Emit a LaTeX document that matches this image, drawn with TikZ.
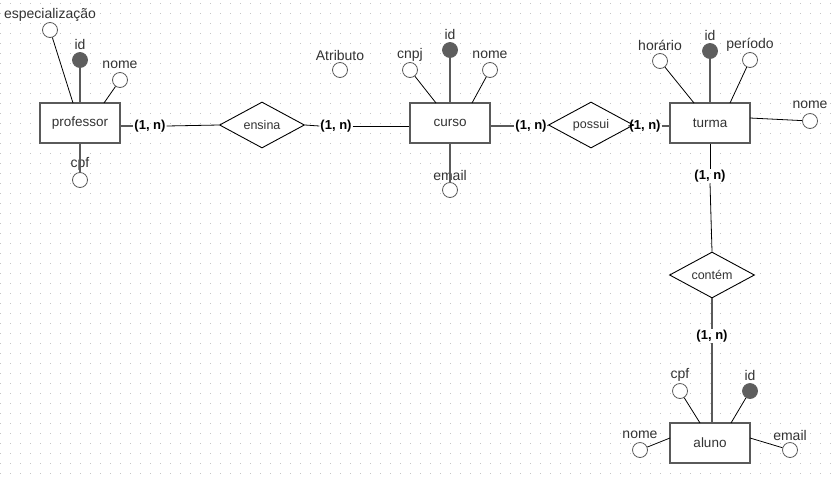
\documentclass[tikz,border=0pt]{standalone}
\usepackage{fontspec}
\setmainfont{Liberation Sans}
\usetikzlibrary{shapes.geometric}
\definecolor{ink}{HTML}{333333}
\definecolor{edge}{HTML}{5A5A5A}
\definecolor{keyfill}{HTML}{5E5E5E}
\definecolor{dotc}{HTML}{C4C4C4}
\tikzset{
  entity/.style={draw=edge, line width=1.5pt, fill=white, minimum width=80pt, minimum height=40pt,
    inner sep=0pt, text=ink, font=\fontsize{13.5}{14}\selectfont},
  relation/.style={draw=black, line width=0.9pt, fill=white, diamond, aspect=1.85,
    minimum width=85pt, minimum height=46pt, inner sep=0pt, text=ink, font=\fontsize{12.5}{13}\selectfont},
  attr/.style={circle, draw=edge, line width=0.8pt, fill=white, minimum size=15pt, inner sep=0pt},
  keyattr/.style={circle, draw=keyfill, line width=0.8pt, fill=keyfill, minimum size=15pt, inner sep=0pt},
  lbl/.style={text=ink, font=\fontsize{14}{15}\selectfont, inner sep=0pt},
  card/.style={font=\bfseries\fontsize{13}{14}\selectfont, text=black, inner sep=1pt},
  thin/.style={draw=black, line width=0.8pt},
  heavy/.style={draw=edge, line width=1.5pt},
}
\begin{document}
\begin{tikzpicture}[x=1pt, y=-1pt]
\useasboundingbox (0,0) rectangle (837,480);
\fill[white] (0,0) rectangle (837,480);
% dotted background grid
\foreach \gx in {0,10,...,830}{
  \foreach \gy in {3,13,...,473}{
    \fill[dotc] (\gx,\gy) rectangle ++(1.1,1.1);
  }
}

% entities and relationships
\node[entity] (prof) at (80,123) {professor};
\node[entity] (curso) at (450,123) {curso};
\node[entity] (turma) at (710,123) {turma};
\node[entity] (aluno) at (710,443) {aluno};
\node[relation] (ensina) at (262,125) {ensina};
\node[relation] (possui) at (591,125) {possui};
\node[relation] (contem) at (712,275) {contém};

% cardinalities
\node[card] (c1) at (150,126) {(1, n)};
\node[card] (c2) at (336,126) {(1, n)};
\node[card] (c3) at (531,126) {(1, n)};
\node[card] (c4) at (645,126) {(1, n)};
\node[card] (c5) at (710,176) {(1, n)};
\node[card] (c6) at (712,336) {(1, n)};

% relationship lines
\draw[heavy] (prof.east |- c1) -- (c1.west);
\draw[thin] (c1.east) -- (ensina.west);
\draw[thin] (ensina.east) -- (c2.west);
\draw[thin] (c2.east) -- (curso.west |- c2);
\draw[heavy] (curso.east |- c3) -- (c3.west);
\draw[thin] (c3.east) -- (possui.west);
\draw[thin] (possui.east) -- (c4.west);
\draw[heavy] (c4.east) -- (turma.west |- c4);
\draw[thin] (turma.south) -- (c5.north);
\draw[thin] (c5.south) -- (contem.north);
\draw[heavy] (contem.south) -- (c6.north);
\draw[heavy] (c6.south) -- (aluno.north -| c6);

% professor attributes
\node[attr] (pEsp) at (50,30) {};
\node[lbl] (pEspL) at (50,15) {especialização};
\node[keyattr] (pId) at (80,60) {};
\node[lbl] (pIdL) at (80,44) {id};
\node[attr] (pNome) at (120,80) {};
\node[lbl] (pNomeL) at (120,65) {nome};
\node[attr] (pCpf) at (80,180) {};
\node[lbl] (pCpfL) at (80,164) {cpf};
\coordinate (pEspA) at (73,103);
\coordinate (pNomeA) at (104,103);
\draw[thin] (pEsp) -- (pEspA);
\draw[heavy] (pId) -- (prof.north);
\draw[thin] (pNome) -- (pNomeA);
\draw[heavy] (prof.south) -- (pCpf);

% curso attributes
\node[attr] (atr) at (340,70) {};
\node[lbl] (atrL) at (340,55) {Atributo};
\node[attr] (cCnpj) at (410,70) {};
\node[lbl] (cCnpjL) at (410,55) {cnpj};
\node[keyattr] (cId) at (450,50) {};
\node[lbl] (cIdL) at (450,34) {id};
\node[attr] (cNome) at (490,70) {};
\node[lbl] (cNomeL) at (490,55) {nome};
\node[attr] (cEmail) at (450,190) {};
\node[lbl] (cEmailL) at (450,175) {email};
\coordinate (cCnpjA) at (436,103);
\coordinate (cNomeA) at (472,103);
\draw[thin] (cCnpj) -- (cCnpjA);
\draw[heavy] (cId) -- (curso.north);
\draw[thin] (cNome) -- (cNomeA);
\draw[heavy] (curso.south) -- (cEmail);

% turma attributes
\node[attr] (tHor) at (660,61) {};
\node[lbl] (tHorL) at (660,45) {horário};
\node[keyattr] (tId) at (710,51) {};
\node[lbl] (tIdL) at (710,35) {id};
\node[attr] (tPer) at (750,60) {};
\node[lbl] (tPerL) at (750,45) {período};
\node[attr] (tNome) at (810,121) {};
\node[lbl] (tNomeL) at (810,105) {nome};
\coordinate (tHorA) at (694,103);
\coordinate (tPerA) at (730,103);
\coordinate (tNomeA) at (750,118);
\draw[thin] (tHor) -- (tHorA);
\draw[heavy] (tId) -- (turma.north);
\draw[thin] (tPer) -- (tPerA);
\draw[thin] (tNomeA) -- (tNome);

% aluno attributes
\node[attr] (aCpf) at (680,391) {};
\node[lbl] (aCpfL) at (680,375) {cpf};
\node[keyattr] (aId) at (750,391) {};
\node[lbl] (aIdL) at (750,375) {id};
\node[attr] (aNome) at (640,450) {};
\node[lbl] (aNomeL) at (640,435) {nome};
\node[attr] (aEmail) at (790,450) {};
\node[lbl] (aEmailL) at (790,435) {email};
\coordinate (aCpfA) at (700,423);
\coordinate (aIdA) at (731,423);
\coordinate (aNomeA) at (670,438);
\coordinate (aEmailA) at (750,438);
\draw[thin] (aCpf) -- (aCpfA);
\draw[thin] (aId) -- (aIdA);
\draw[thin] (aNome) -- (aNomeA);
\draw[thin] (aEmailA) -- (aEmail);
\end{tikzpicture}
\end{document}
